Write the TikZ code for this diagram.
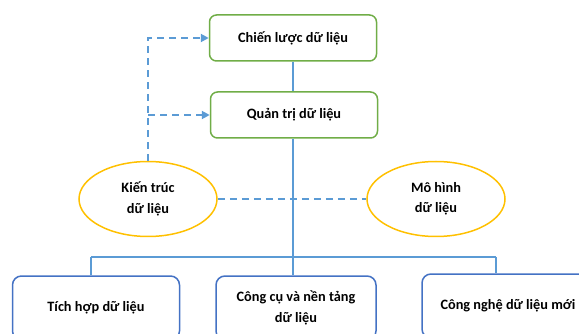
\documentclass[tikz,border=0pt]{standalone}
\usepackage{fontspec}
\setmainfont{Carlito}
\usetikzlibrary{shapes.geometric,arrows.meta}
\definecolor{stratgreen}{HTML}{70AD47}
\definecolor{ovalgold}{HTML}{FFC000}
\definecolor{linkblue}{HTML}{5B9BD5}
\definecolor{techblue}{HTML}{4472C4}
\begin{document}
\begin{tikzpicture}[x=1pt, y=-1pt,
    lbltext/.style={font=\bfseries\fontsize{14.3}{20.5}\selectfont, align=center, text=black},
    stratbox/.style={lbltext, draw=stratgreen, line width=1.5pt, rounded corners=7pt,
      minimum width=167pt, minimum height=46pt},
    ovalbox/.style={lbltext, ellipse, draw=ovalgold, line width=1.5pt,
      minimum width=138pt, minimum height=75pt, inner sep=0pt},
    techbox/.style={lbltext, draw=techblue, line width=1.5pt, rounded corners=9pt,
      minimum height=64pt},
    link/.style={draw=linkblue, line width=2pt},
    dashlink/.style={draw=linkblue, line width=2pt, dash pattern=on 7pt off 5pt,
      -{Triangle[length=8pt, width=8pt]}}
  ]
  \clip (0,0) rectangle (579,334);
  % upper layer
  \node[stratbox] (strat) at (293,38) {Chiến lược dữ liệu};
  \node[stratbox] (govern) at (294,115) {Quản trị dữ liệu};
  \draw[link] (strat.south) -- (strat.south |- govern.north);
  % side ellipses
  \node[ovalbox] (arch) at (148,199) {Kiến trúc\\dữ liệu};
  \node[ovalbox] (model) at (436,199) {Mô hình\\dữ liệu};
  \draw[dashlink] (arch.north) -- (arch.north |- strat.west) -- (strat.west);
  \draw[dashlink] (arch.north |- govern.west) -- (govern.west);
  \draw[link, dash pattern=on 7pt off 5pt] (arch.east) -- (model.west);
  % lower layer
  \node[techbox, minimum width=167pt] (integ) at (96,308) {Tích hợp dữ liệu};
  \node[techbox, minimum width=160pt] (platform) at (296,308) {Công cụ và nền tảng\\dữ liệu};
  \node[techbox, minimum width=172pt] (newtech) at (508,306) {Công nghệ dữ liệu mới};
  \coordinate (busL) at (91,257);
  \coordinate (busR) at (496,257);
  \draw[link] (strat.south |- govern.south) -- (strat.south |- platform.north);
  \draw[link] (busL) -- (busR);
  \draw[link] (busL) -- (busL |- integ.north);
  \draw[link] (busR) -- (busR |- newtech.north);
\end{tikzpicture}
\end{document}
